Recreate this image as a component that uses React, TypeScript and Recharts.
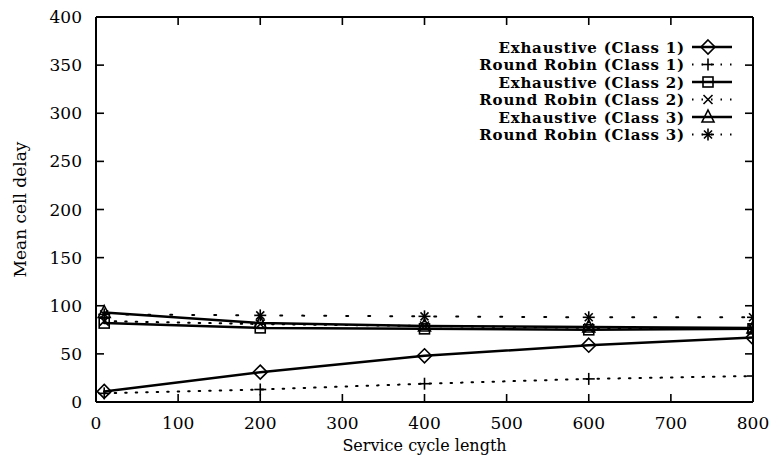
import React from 'react';
import { LineChart, Line, XAxis, YAxis, Legend, ReferenceLine } from 'recharts';

const cycleLength = [10, 200, 400, 600, 800];
const exhaustive1 = [11, 31, 48, 59, 67];
const roundRobin1 = [9, 13, 19, 24, 27];
const exhaustive2 = [82, 77, 76, 75, 76];
const roundRobin2 = [84, 81, 79, 77, 76];
const exhaustive3 = [93, 82, 79, 78, 77];
const roundRobin3 = [91, 90, 89, 88, 88];

const xTicks = [0, 100, 200, 300, 400, 500, 600, 700, 800];
const yTicks = [0, 50, 100, 150, 200, 250, 300, 350, 400];

const data = cycleLength.map((x, i) => ({
  x,
  ex1: exhaustive1[i],
  rr1: roundRobin1[i],
  ex2: exhaustive2[i],
  rr2: roundRobin2[i],
  ex3: exhaustive3[i],
  rr3: roundRobin3[i],
}));

const series = [
  { key: 'ex1', name: 'Exhaustive (Class 1)', shape: 'diamond', dash: undefined as string | undefined },
  { key: 'rr1', name: 'Round Robin (Class 1)', shape: 'plus', dash: '1.5 9' },
  { key: 'ex2', name: 'Exhaustive (Class 2)', shape: 'square', dash: undefined },
  { key: 'rr2', name: 'Round Robin (Class 2)', shape: 'cross', dash: '1.5 9' },
  { key: 'ex3', name: 'Exhaustive (Class 3)', shape: 'triangle', dash: undefined },
  { key: 'rr3', name: 'Round Robin (Class 3)', shape: 'star', dash: '2 20' },
];

// plot box in page pixels
const W = 772;
const H = 456;
const LEFT = 96;
const RIGHT = 753;
const TOP = 17;
const BOTTOM = 402;
const FONT = '"DejaVu Serif", serif';
const INK = '#000';

function Marker({ shape, cx, cy }: { shape: string; cx: number; cy: number }) {
  const s = { stroke: INK, strokeWidth: 1.6, fill: 'none' };
  if (shape === 'diamond') {
    return <polygon points={`${cx},${cy - 7} ${cx + 7},${cy} ${cx},${cy + 7} ${cx - 7},${cy}`} {...s} />;
  }
  if (shape === 'square') {
    return <rect x={cx - 5} y={cy - 5} width={10} height={10} {...s} />;
  }
  if (shape === 'triangle') {
    return <polygon points={`${cx},${cy - 7} ${cx + 6},${cy + 5} ${cx - 6},${cy + 5}`} {...s} />;
  }
  if (shape === 'plus') {
    return (
      <g {...s}>
        <line x1={cx - 6} y1={cy} x2={cx + 6} y2={cy} />
        <line x1={cx} y1={cy - 6} x2={cx} y2={cy + 6} />
      </g>
    );
  }
  if (shape === 'cross') {
    return (
      <g {...s}>
        <line x1={cx - 4.5} y1={cy - 4.5} x2={cx + 4.5} y2={cy + 4.5} />
        <line x1={cx - 4.5} y1={cy + 4.5} x2={cx + 4.5} y2={cy - 4.5} />
      </g>
    );
  }
  // star
  return (
    <g {...s}>
      <line x1={cx - 6} y1={cy} x2={cx + 6} y2={cy} />
      <line x1={cx} y1={cy - 6} x2={cx} y2={cy + 6} />
      <line x1={cx - 4} y1={cy - 4} x2={cx + 4} y2={cy + 4} />
      <line x1={cx - 4} y1={cy + 4} x2={cx + 4} y2={cy - 4} />
    </g>
  );
}

function XTick(props: any) {
  const { x, payload } = props;
  return (
    <g>
      <line x1={x} y1={BOTTOM} x2={x} y2={BOTTOM - 8} stroke={INK} strokeWidth={1.6} />
      <line x1={x} y1={TOP} x2={x} y2={TOP + 8} stroke={INK} strokeWidth={1.6} />
      <text x={x} y={BOTTOM + 27} textAnchor="middle" fontFamily={FONT} fontSize={17} fill={INK}>
        {payload.value}
      </text>
    </g>
  );
}

function YTick(props: any) {
  const { y, payload } = props;
  return (
    <g>
      <line x1={LEFT} y1={y} x2={LEFT + 8} y2={y} stroke={INK} strokeWidth={1.6} />
      <line x1={RIGHT} y1={y} x2={RIGHT - 8} y2={y} stroke={INK} strokeWidth={1.6} />
      <text x={LEFT - 14} y={y + 6} textAnchor="end" fontFamily={FONT} fontSize={17} fill={INK}>
        {payload.value}
      </text>
    </g>
  );
}

function YTitle(props: any) {
  const vb = props.viewBox;
  const cx = vb.x + 20;
  const cy = vb.y + vb.height / 2;
  return (
    <text x={cx} y={cy} transform={`rotate(-90 ${cx} ${cy})`} textAnchor="middle" dominantBaseline="central"
      fontFamily={FONT} fontSize={17} fill={INK}>
      Mean cell delay
    </text>
  );
}

function KeyBox() {
  return (
    <svg width={W} height={150} style={{ display: 'block' }}>
      {series.map((s, i) => {
        const cy = 47 + i * 17.5;
        return (
          <g key={s.key}>
            <text x={685} y={cy + 5.5} textAnchor="end" fontFamily={FONT} fontSize={15} fontWeight="bold"
              letterSpacing={0.8} fill={INK}>
              {s.name}
            </text>
            <line x1={692} y1={cy} x2={732} y2={cy} stroke={INK} strokeWidth={s.dash ? 2 : 2.4}
              strokeDasharray={s.dash ? '1.5 8' : undefined} />
            <Marker shape={s.shape} cx={708} cy={cy} />
          </g>
        );
      })}
    </svg>
  );
}

export default function App() {
  return (
    <div style={{ position: 'absolute', left: 0, top: 0, width: W, height: H, background: '#fff' }}>
      <LineChart width={W} height={H} data={data} margin={{ top: TOP, right: W - RIGHT, bottom: 0, left: 0 }}>
        <XAxis
          type="number"
          dataKey="x"
          domain={[0, 800]}
          ticks={xTicks}
          interval={0}
          allowDataOverflow
          height={H - BOTTOM}
          tickSize={0}
          tickLine={false}
          tick={<XTick />}
          axisLine={{ stroke: INK, strokeWidth: 2 }}
          label={{ value: 'Service cycle length', position: 'insideBottom', offset: 5, fontFamily: FONT, fontSize: 16, fill: INK }}
        />
        <YAxis
          type="number"
          domain={[0, 400]}
          ticks={yTicks}
          interval={0}
          allowDataOverflow
          width={LEFT}
          tickSize={0}
          tickLine={false}
          tick={<YTick />}
          axisLine={{ stroke: INK, strokeWidth: 2 }}
          label={<YTitle />}
        />
        <ReferenceLine y={400} stroke={INK} strokeWidth={2} />
        <ReferenceLine x={800} stroke={INK} strokeWidth={2} />
        {series.map((s) => (
          <Line
            key={s.key}
            type="linear"
            dataKey={s.key}
            name={s.name}
            stroke={INK}
            strokeWidth={s.dash ? 2 : 2.5}
            strokeDasharray={s.dash}
            strokeLinecap="round"
            isAnimationActive={false}
            dot={(p: any) => <Marker key={`${s.key}-${p.index}`} shape={s.shape} cx={p.cx} cy={p.cy} />}
            activeDot={false}
          />
        ))}
        <Legend
          layout="horizontal"
          verticalAlign="middle"
          align="center"
          content={() => <KeyBox />}
          wrapperStyle={{ position: 'absolute', top: 0, left: 0, width: W, height: 150 }}
        />
      </LineChart>
    </div>
  );
}
